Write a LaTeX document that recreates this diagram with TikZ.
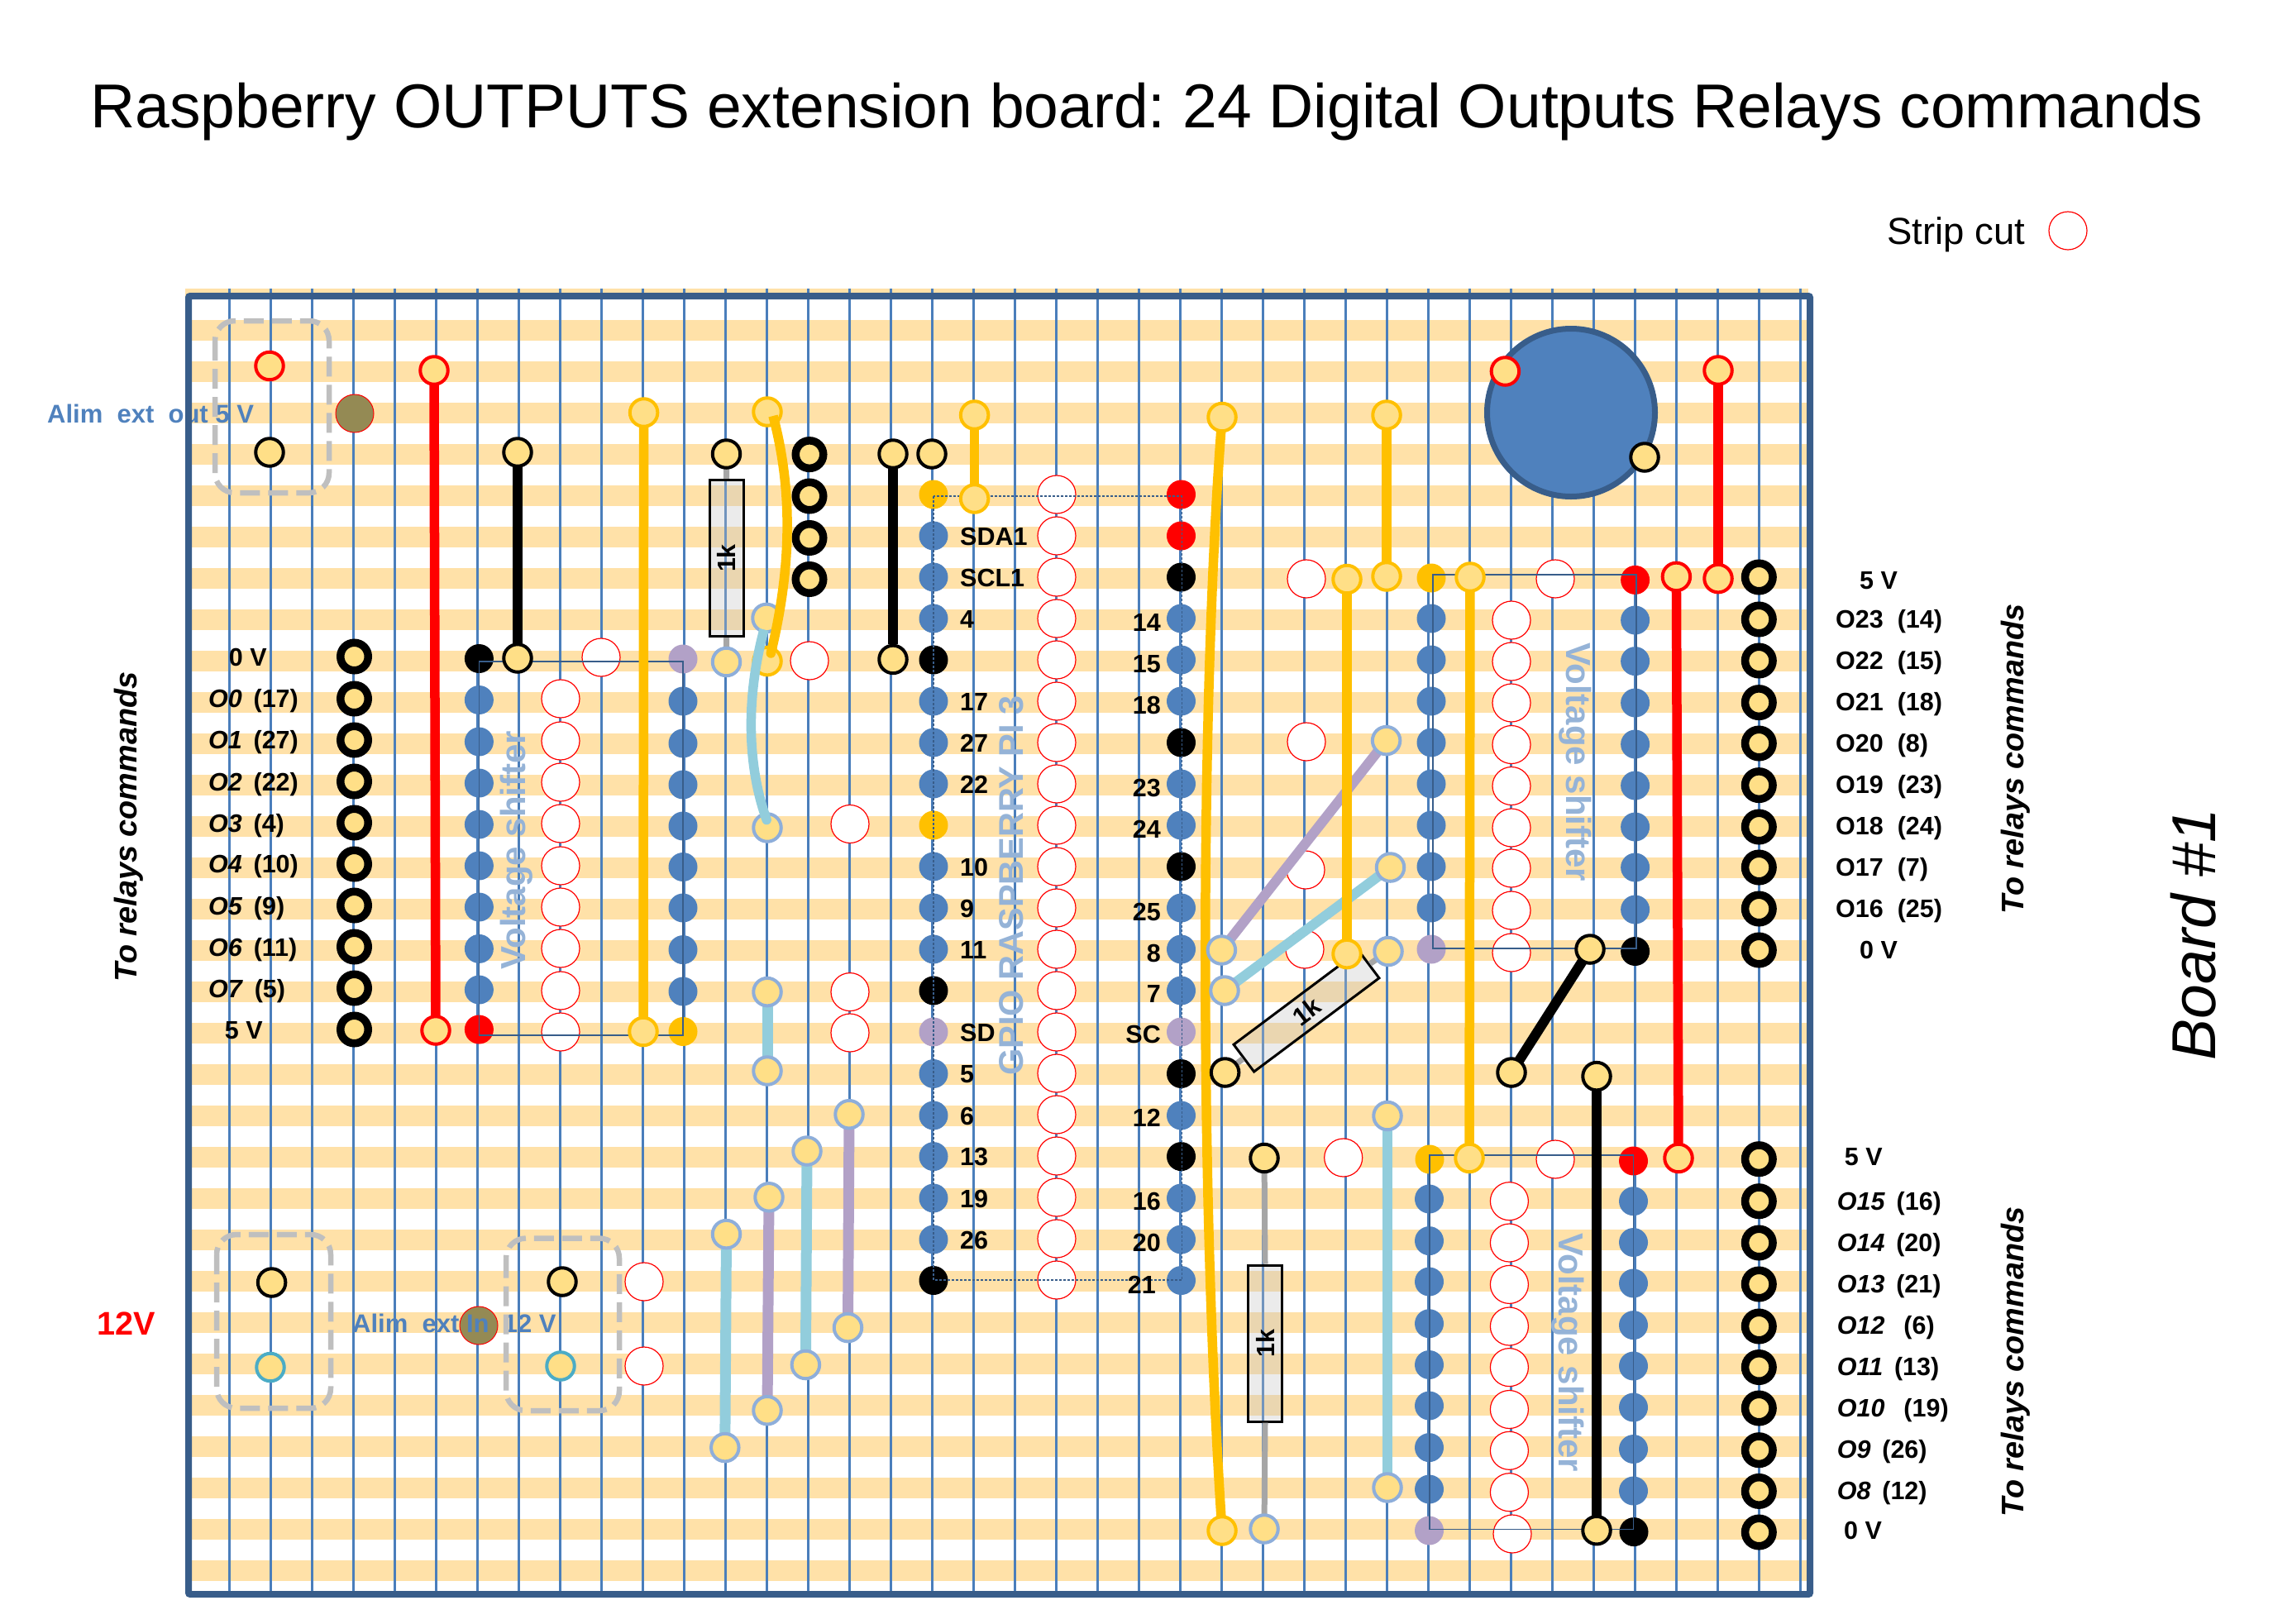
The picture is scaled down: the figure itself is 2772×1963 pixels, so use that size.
\documentclass[tikz,border=0pt]{standalone}
\usepackage{fontspec}
\setmainfont{Liberation Sans}
\usetikzlibrary{arrows.meta}
\pgfdeclarelayer{board}
\pgfdeclarelayer{wires}
\pgfsetlayers{board,wires,main}
\definecolor{stripefill}{HTML}{FFE1A8}
\definecolor{stripline}{HTML}{4A7EBB}
\definecolor{frameblue}{HTML}{385D8A}
\definecolor{bluefill}{HTML}{4F81BD}
\definecolor{padfill}{HTML}{FFDF87}
\definecolor{wireorange}{HTML}{FFC000}
\definecolor{wirepurple}{HTML}{B2A1C7}
\definecolor{wireblue}{HTML}{92CDDC}
\definecolor{padblue}{HTML}{8EAEDA}
\definecolor{padteal}{HTML}{4BACC6}
\definecolor{olive}{HTML}{948A54}
\definecolor{ghost}{HTML}{95B3D7}
\tikzset{
  strip/.style={stripline,line width=3pt},
  padbase/.style={circle,draw,fill=padfill,inner sep=0pt,minimum size=33.5pt,line width=4pt},
  padk/.style={padbase,draw=black},
  padr/.style={padbase,draw=red},
  pado/.style={padbase,draw=wireorange},
  padb/.style={padbase,draw=padblue},
  padt/.style={padbase,draw=padteal},
  ring/.style={padbase,draw=black,line width=9.5pt,minimum size=33.5pt},
  dotbase/.style={circle,inner sep=0pt,minimum size=35pt},
  dotb/.style={dotbase,fill=bluefill},
  dotk/.style={dotbase,fill=black},
  dotr/.style={dotbase,fill=red},
  doto/.style={dotbase,fill=wireorange},
  dotp/.style={dotbase,fill=wirepurple},
  cut/.style={circle,draw=red,fill=white,inner sep=0pt,minimum size=46pt,line width=1.2pt},
  powerdot/.style={circle,draw=red,fill=olive,inner sep=0pt,minimum size=46pt,line width=1pt},
  wire/.style={line width=11.5pt},
  wirethin/.style={line width=12pt},
  wirejump/.style={line width=13pt},
  lead/.style={line width=7pt,color=black!35},
  ic/.style={frameblue,line width=1.1pt},
  resistor/.style={draw=black,line width=3pt,fill=black!24,fill opacity=.33,text opacity=1,draw opacity=1,minimum width=189pt,minimum height=41pt,inner sep=0pt,font=\fontsize{30.5}{31}\bfseries\selectfont},
  jumperbox/.style={draw=black!25,line width=6.5pt,dash pattern=on 24pt off 10pt,rounded corners=24pt},
  lab/.style={inner sep=0pt,text height=22pt,text depth=0pt,font=\fontsize{30.5}{31}\bfseries\selectfont},
  labw/.style={lab,anchor=west},
  labe/.style={lab,anchor=east},
  ghosttext/.style={inner sep=0pt,text=ghost,font=\fontsize{42}{43}\bfseries\selectfont},
  alimtext/.style={inner sep=0pt,anchor=west,text=bluefill,font=\fontsize{31}{32}\bfseries\selectfont},
  relay/.style={inner sep=0pt,rotate=90,font=\fontsize{37.8}{39}\bfseries\itshape\selectfont},
}
\frenchspacing
\begin{document}
\begin{tikzpicture}[x=1pt,y=-1pt]
\useasboundingbox (0,0) rectangle (2772,1963);
% ---------- board
\begin{pgfonlayer}{board}
  \fill[stripefill] (224,349) rectangle (2187,361.5);
  \foreach \j in {0,...,30} \fill[stripefill] (224,{386.5+50*\j}) rectangle (2187,{411.5+50*\j});
  \node[alimtext] (alimout) at (57,500) {Alim~ ext~ out 5 V};
  \foreach \k in {0,...,38} \draw[strip] ({277+50*\k},349) -- ({277+50*\k},1928);
  \draw[frameblue,line width=8pt,rounded corners=2pt] (228,358) rectangle (2189,1928);
  \node[circle,draw=frameblue,fill=bluefill,line width=7pt,inner sep=0pt,minimum size=203pt] (bigcap) at (1900,499) {};
  % strip cuts
  \foreach \y [count=\i] in {600,650,700,750,800,850,900,950,1000,1050,1100,1150,1200,1250,1300,1350,1400,1450,1500,1550}
    \node[cut] (cg\i) at (1278,\y-2) {};
  \foreach \y [count=\i] in {845,896,946,996,1047,1097,1147,1198,1248} \node[cut] (cl\i) at (678,\y) {};
  \foreach \y [count=\i] in {750,800,850,900.5,950.5,1001,1050,1101,1152} \node[cut] (cu\i) at (1828,\y) {};
  \foreach \y [count=\i] in {1452.7,1503,1553.4,1604,1653.6,1704.5,1754.3,1804.7} \node[cut] (cd\i) at (1825.4,\y) {};
  \node[cut] (c1) at (727,795) {};
  \node[cut] (c2) at (979,799) {};
  \node[cut] (c3) at (1028,996.5) {};
  \node[cut] (c4) at (1028,1199.6) {};
  \node[cut] (c5) at (1028,1249) {};
  \node[cut] (c6) at (779,1550) {};
  \node[cut] (c7) at (779,1652) {};
  \node[cut] (c8) at (1580,700) {};
  \node[cut] (c9) at (1580,897) {};
  \node[cut] (c10) at (1579,1052) {};
  \node[cut] (c11) at (1578,1148) {};
  \node[cut] (c12) at (1881,700) {};
  \node[cut] (c13) at (1624.7,1400) {};
  \node[cut] (c14) at (1881,1402) {};
  \node[cut] (c15) at (1829,1855) {};
  \node[cut] (legendcut) at (2501,279) {};
  % IC pins
  \node[dotk] (lk) at (579.4,796.5) {};
  \foreach \y [count=\i] in {846.5,897,947,997,1047,1097,1147.4,1197} \node[dotb] (la\i) at (579.4,\y) {};
  \node[dotr] (lr) at (579.4,1245) {};
  \node[dotp] (lp) at (826,797) {};
  \foreach \y [count=\i] in {848,899,949,999,1048.5,1098,1148.6,1199} \node[dotb] (lb\i) at (826,\y) {};
  \node[doto] (lo) at (826,1247.5) {};
  % GPIO left column
  \foreach \y/\s [count=\i] in {598/doto,648/dotb,698/dotb,748/dotb,798/dotk,848/dotb,898/dotb,948/dotb,998/doto,1048/dotb,1098/dotb,1148/dotb,1198/dotk,1248/dotp,1298.5/dotb,1349/dotb,1398.6/dotb,1449/dotb,1499/dotb,1548.5/dotk}
    \node[\s] (gl\i) at (1129,\y) {};
  % GPIO right column
  \foreach \y/\s [count=\i] in {598/dotr,648/dotr,698/dotk,748/dotb,798/dotb,848/dotb,898/dotk,948/dotb,998/dotb,1048/dotk,1098/dotb,1148/dotb,1198/dotb,1248/dotp,1298.5/dotk,1349/dotb,1398.6/dotk,1449/dotb,1499/dotb,1548.5/dotb}
    \node[\s] (gr\i) at (1428.5,\y) {};
  % upper right IC
  \node[doto] (uo) at (1731,699) {};
  \foreach \y [count=\i] in {748,798,848,898,948,998,1048,1098} \node[dotb] (ua\i) at (1731,\y) {};
  \node[dotp] (up) at (1731,1148) {};
  \node[dotr] (ur) at (1977.6,701.4) {};
  \foreach \y [count=\i] in {750,799.6,850,900,950,1000,1049,1100} \node[dotb] (ub\i) at (1977.6,\y) {};
  \node[dotk] (uk) at (1977.6,1150.5) {};
  % lower right IC
  \node[doto] (do) at (1729,1402) {};
  \foreach \y [count=\i] in {1450,1500.6,1550,1600.7,1650.5,1700,1750.6,1801} \node[dotb] (da\i) at (1728.5,\y) {};
  \node[dotp] (dp) at (1728.5,1851) {};
  \node[dotr] (dr) at (1975.5,1404) {};
  \foreach \y [count=\i] in {1452.7,1502.5,1552,1602.6,1652,1702,1752.5,1803} \node[dotb] (db\i) at (1975.5,\y) {};
  \node[dotk] (dk) at (1976,1852.6) {};
  % IC outlines
  \draw[ic] (579.4,800) rectangle (826,1252);
  \draw[ic,dash pattern=on 3pt off 2pt] (1129,600) rectangle (1429.7,1548);
  \draw[ic] (1733,695) rectangle (1979,1147);
  \draw[ic] (1729,1397) rectangle (1975.5,1849.5);
\end{pgfonlayer}
% ---------- pads
\node[padr] (a1) at (326,442.5) {};
\node[padk] (a2) at (326,547) {};
\node[powerdot] (oliveout) at (429,500) {};
\node[padr] (pr1) at (525,448) {};
\node[padr] (pr2) at (527,1246) {};
\node[padk] (pk1) at (626,547) {};
\node[padk] (pk2) at (626,796) {};
\node[pado] (po1) at (778.6,499) {};
\node[pado] (po2) at (778,1247.5) {};
\node[padk] (pk0) at (878.5,549) {};
\node[padb] (pb1) at (878.5,800.5) {};
\node[padb] (pb2) at (927,747.4) {};
\node[pado] (po3) at (928,498) {};
\node[pado] (po4) at (928,799.6) {};
\node[padb] (pb3) at (928,1001) {};
\foreach \y [count=\i] in {549.6,600,650.5,700.5} \node[ring] (rm\i) at (979,\y) {};
\node[padk] (pk3) at (1080,549) {};
\node[padk] (pk4) at (1080,797.4) {};
\node[padk] (pk5) at (1127,549) {};
\node[pado] (po5) at (1178.6,502) {};
\node[pado] (po6) at (1178.6,603) {};
\node[pado] (po7) at (1478,504.5) {};
\node[pado] (po8) at (1478,1851) {};
\node[pado] (po9) at (1677,502) {};
\node[pado] (po10) at (1677,697) {};
\node[pado] (po11) at (1629,700.5) {};
\node[pado] (po12) at (1629,1153.6) {};
\node[padb] (pb4) at (1676.6,895.6) {};
\node[padb] (pb5) at (1477.4,1149) {};
\node[padb] (pb6) at (1681.5,1049) {};
\node[padb] (pb7) at (1481,1198) {};
\node[padb] (pb8) at (1679,1150.5) {};
\node[padk] (pk6) at (1481.6,1297) {};
\node[padk] (pk7) at (1529,1400.5) {};
\node[padb] (pb9) at (1529,1849) {};
\node[padb] (pb10) at (1678,1349.5) {};
\node[padb] (pb11) at (1678,1799) {};
\node[pado] (po13) at (1778,698) {};
\node[pado] (po14) at (1777,1400.5) {};
\node[padr] (pr3) at (2027.4,697.4) {};
\node[padr] (pr4) at (2030,1400.5) {};
\node[padr] (pr5) at (2078,448) {};
\node[padr] (pr6) at (2078,699.6) {};
\node[padk] (pk8) at (1923,1148) {};
\node[padk] (pk9) at (1828,1297) {};
\node[padk] (pk10) at (1931,1301.6) {};
\node[padk] (pk11) at (1931,1850.7) {};
\node[padr] (pr7) at (1820.4,449) {};
\node[padk] (pk12) at (1989,553) {};
\node[padb] (j1a) at (928,1199.6) {};
\node[padb] (j1b) at (928,1295) {};
\node[padb] (j2a) at (1027,1347.7) {};
\node[padb] (j2b) at (1025.5,1605.6) {};
\node[padb] (j3a) at (976,1392) {};
\node[padb] (j3b) at (974.4,1650.5) {};
\node[padb] (j4a) at (930,1447.8) {};
\node[padb] (j4b) at (928,1705.7) {};
\node[padb] (j5a) at (878.5,1492.6) {};
\node[padb] (j5b) at (876.8,1750.6) {};
\node[padk] (s1) at (328.6,1551) {};
\node[padt] (s2) at (327,1653.5) {};
\node[padk] (s3) at (680,1550) {};
\node[padt] (s4) at (678,1652) {};
\node[powerdot] (olivein) at (579,1603) {};
% rings
\foreach \y [count=\i] in {794,845,895,945,995,1045,1095,1145,1195,1245} \node[ring] (rl\i) at (428.5,\y) {};
\foreach \y [count=\i] in {698,749,799,849.6,899,949.6,1000,1049,1099,1149} \node[ring] (ru\i) at (2127.3,\y) {};
\foreach \y [count=\i] in {1401.7,1452.7,1503,1553,1604,1653.5,1703,1753.7,1803.4,1853} \node[ring] (rd\i) at (2127.3,\y) {};
% ---------- wires and resistors under the pads
\begin{pgfonlayer}{wires}
  \draw[wirethin,wirepurple] (pb4.center) -- (pb5.center);
  \draw[wirethin,wireblue] (pb6.center) -- (pb7.center);
  \node[resistor,rotate=90] (r1) at (878.7,675) {1k};
  \node[resistor,rotate=36.8] (r2) at (1580,1223) {1k};
  \node[resistor,rotate=90] (r3) at (1530,1624.5) {1k};
  \draw[wire,red] (pr1.center) -- (pr2.center);
  \draw[wire,black] (pk1.center) -- (pk2.center);
  \draw[wire,wireorange] (po1.center) -- (po2.center);
  \draw[wire,black] (pk3.center) -- (pk4.north);
  \draw[wire,wireorange] (po5.center) -- (po6.center);
  \draw[wire,wireorange] (po7.center) .. controls (1451,850) and (1451,1450) .. (po8.center);
  \draw[wire,wireorange] (po9.center) -- (po10.center);
  \draw[wire,wireorange] (po11.center) -- (po12.center);
  \draw[wire,wireblue] (pb10.center) -- (pb11.center);
  \draw[wire,wireorange] (po13.center) -- (po14.center);
  \draw[wire,red] (pr3.center) -- (pr4.center);
  \draw[wire,red] (pr5.center) -- (pr6.center);
  \draw[wirethin,black] (pk8.center) -- (pk9.center);
  \draw[wire,black] (pk10.center) -- (pk11.center);
  \draw[wirejump,wireblue] (j1a.center) -- (j1b.center);
  \draw[wirejump,wirepurple] (j2a.center) -- (j2b.center);
  \draw[wirejump,wireblue] (j3a.center) -- (j3b.center);
  \draw[wirejump,wirepurple] (j4a.center) -- (j4b.center);
  \draw[wirejump,wireblue] (j5a.center) -- (j5b.center);
  \draw[lead] (pk0.center) -- (r1.east);
  \draw[lead] (pb1.center) -- (r1.west);
  \draw[lead] (pk6.center) -- (r2.west);
  \draw[lead] (pb8.center) -- (r2.east);
  \draw[lead] (pk7.center) -- (r3.east);
  \draw[lead] (pb9.center) -- (r3.west);
\end{pgfonlayer}
% ---------- wires over the pads
\draw[wire,wireorange,-{Round Cap[]}] ([shift={(7,5)}]po3.center) .. controls (958,590) and (958,680) .. ([shift={(3,-4)}]po4.center);
\draw[wire,wireblue,-{Round Cap[]}] ([shift={(-3,14)}]pb2.center) .. controls (903,840) and (903,920) .. ([shift={(1,-4)}]pb3.center);
% ---------- texts
\node[font=\fontsize{75}{80}\selectfont,inner sep=0pt] (title) at (1387,135) {Raspberry OUTPUTS extension board: 24 Digital Outputs Relays commands};
\node[font=\fontsize{45.5}{46}\selectfont,inner sep=0pt,anchor=west] (legend) at (2282,284) {Strip cut};
\node[alimtext] (alimin) at (426,1600) {Alim~ ext In~ 12 V};
\node[inner sep=0pt,text=red,font=\fontsize{39.6}{40}\bfseries\selectfont] (twelve) at (153,1601) {12V};
\node[relay] (rel1) at (156,1000) {To relays commands};
\node[relay] (rel2) at (2438,918) {To relays commands};
\node[relay] (rel3) at (2438,1647) {To relays commands};
\node[inner sep=0pt,rotate=90,font=\fontsize{75}{76}\itshape\selectfont] (board) at (2653,1130) {Board \#1};
\node[ghosttext,rotate=90] (vs1) at (625,1028) {Voltage shifter};
\node[ghosttext,rotate=-90] (vs2) at (1905,922) {Voltage shifter};
\node[ghosttext,rotate=-90] (vs3) at (1896,1636) {Voltage shifter};
\node[ghosttext,rotate=90,font=\fontsize{41.5}{42}\bfseries\selectfont] (gpio) at (1223.5,1071) {GPIO RASPBERRY PI 3};
% left output labels
\node[labw] (t0) at (276.7,794) {0 V};
\node[labw] (t1) at (252,844) {\textit{O0}\hspace{.45em}(17)};
\node[labw] (t2) at (252,894.6) {\textit{O1}\hspace{.45em}(27)};
\node[labw] (t3) at (252,945) {\textit{O2}\hspace{.45em}(22)};
\node[labw] (t4) at (252,995.6) {\textit{O3}\hspace{.45em}(4)};
\node[labw] (t5) at (252,1044.6) {\textit{O4}\hspace{.45em}(10)};
\node[labw] (t6) at (252,1095) {\textit{O5}\hspace{.45em}(9)};
\node[labw] (t7) at (252,1145) {\textit{O6}\hspace{.45em}(11)};
\node[labw] (t8) at (252,1195) {\textit{O7}\hspace{.45em}(5)};
\node[labw] (t9) at (271.7,1245) {5 V};
% upper right labels
\node[labw] (u0) at (2249,701.7) {5 V};
\foreach \y/\s [count=\i] in {748/O23~ (14),798/O22~ (15),848/O21~ (18),898/O20~ (8),948/O19~ (23),998/O18~ (24),1048/O17~ (7),1098/O16~ (25)}
  \node[labw] (ul\i) at (2220,\y) {\s};
\node[labw] (u9) at (2249,1148) {0 V};
% lower right labels
\node[labw] (v0) at (2230.7,1398.5) {5 V};
\node[labw] (v1) at (2221.7,1452) {\textit{O15}\hspace{.45em}(16)};
\node[labw] (v2) at (2221.7,1502) {\textit{O14}\hspace{.45em}(20)};
\node[labw] (v3) at (2221.7,1552) {\textit{O13}\hspace{.45em}(21)};
\node[labw] (v4) at (2221.7,1602) {\textit{O12}\hspace{.75em}(6)};
\node[labw] (v5) at (2221.7,1652) {\textit{O11}\hspace{.45em}(13)};
\node[labw] (v6) at (2221.7,1702) {\textit{O10}\hspace{.75em}(19)};
\node[labw] (v7) at (2221.7,1752) {\textit{O9}\hspace{.45em}(26)};
\node[labw] (v8) at (2221.7,1802) {\textit{O8}\hspace{.45em}(12)};
\node[labw] (v9) at (2230,1850) {0 V};
% GPIO labels
\foreach \y/\s [count=\i] in {648/SDA1,698/SCL1,748/4,848/17,898/27,948/22,1048/10,1098/9,1148/11,1248/SD,1298.5/5,1349/6,1398.6/13,1449/19,1499/26}
  \node[labw] (gt\i) at (1161,\y) {\s};
\foreach \y/\s [count=\i] in {752/14,802/15,852/18,952/23,1002/24,1102.6/25,1152/8,1201.5/7,1250.6/SC,1351/12,1452/16,1502/20}
  \node[labe] (gu\i) at (1404,\y) {\s};
\node[labe] (gu13) at (1398,1553) {21};
% ---------- power jumper frames
\draw[jumperbox] (260,388) rectangle (398,596);
\draw[jumperbox] (262,1493) rectangle (400,1703);
\draw[jumperbox] (612,1497.5) rectangle (749,1706);
\end{tikzpicture}
\end{document}
